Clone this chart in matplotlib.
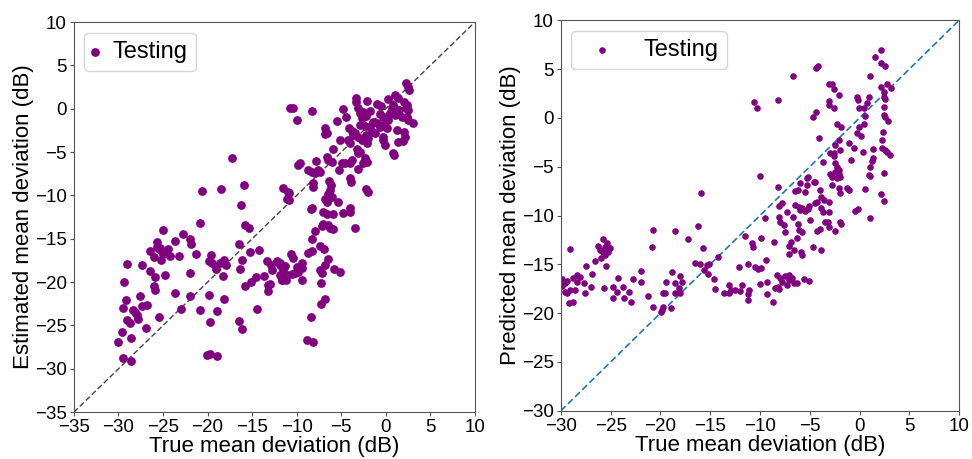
import numpy as np
import matplotlib
matplotlib.use('Agg')
from matplotlib import pyplot as plt

plt.rcParams['font.family'] = ['Liberation Sans', 'DejaVu Sans']

# left panel: (true MD, estimated MD)
left_pts = [
    (2.26, 3.0), (2.5, 2.5), (2.6, 2.2), (1.03, 1.57), (1.4, 1.27), (0.28, 1.1), (-3.35, 1.27), (-3.3, 0.8),
    (-2.08, 0.92), (-1.03, 0.5), (2.04, 0.8), (2.34, 0.42), (2.26, 0.04), (2.5, -0.15), (0.84, 0.42), (0.65, 0.04),
    (-10.76, 0.04), (-10.4, 0.12), (-8.33, -0.27), (-4.77, -0.04), (-3.09, 0.04), (-2.9, -0.54), (-2.53, -0.35),
    (-2.23, -0.85), (-2.7, -1.1), (-0.66, -0.65), (-0.28, -0.92), (0.09, -0.92), (0.47, -0.54), (0.28, -1.3),
    (0.84, -0.15), (1.03, -0.73), (2.34, -0.92), (2.5, -1.3), (3.0, -1.7), (-10.0, -1.3), (-4.47, -0.92),
    (-5.52, -1.4), (-6.83, -2.2), (-6.64, -2.85), (-6.83, -2.96), (-4.1, -2.27), (-3.83, -2.58), (-3.46, -2.85),
    (-3.65, -3.04), (-3.09, -3.23), (-2.9, -1.9), (-2.34, -1.96), (-1.78, -2.08), (-1.4, -1.5), (-1.03, -1.7),
    (-0.66, -2.08), (-0.28, -1.9), (0.09, -2.27), (-1.6, -2.65), (-1.22, -2.85), (-2.7, -3.6), (-2.15, -4.0),
    (-2.23, -3.04), (-0.36, -3.23), (-0.28, -3.6), (-0.1, -4.2), (1.21, -2.46), (1.4, -3.8), (2.04, -2.65),
    (2.15, -3.23), (1.96, -3.73), (0.84, -5.15), (0.92, -5.35), (-5.15, -3.6), (-4.2, -3.6), (-4.02, -4.0),
    (-5.9, -4.6), (-3.28, -4.6), (-3.09, -5.15), (-2.9, -4.96), (-2.34, -5.73), (-2.15, -6.12), (-2.53, -6.3),
    (-3.09, -6.9), (-3.83, -5.9), (-4.02, -6.3), (-4.96, -6.3), (-4.58, -6.3), (-5.22, -7.08), (-6.64, -5.54),
    (-6.08, -6.12), (-6.46, -5.9), (-7.84, -6.04), (-9.82, -6.5), (-9.63, -6.3), (-8.7, -7.08), (-8.33, -7.27),
    (-7.95, -7.46), (-7.58, -7.08), (-7.39, -7.35), (-8.14, -8.6), (-8.14, -9.0), (-6.34, -8.35), (-6.19, -8.8),
    (-6.27, -9.4), (-6.46, -9.8), (-6.08, -10.2), (-6.83, -10.4), (-6.64, -10.7), (-5.33, -10.7), (-4.02, -8.0),
    (-3.95, -8.5), (-2.23, -9.27), (-1.97, -9.65), (-11.58, -9.1), (-10.94, -9.6), (-11.06, -10.4), (-8.33, -11.5),
    (-7.02, -11.9), (-5.9, -12.1), (-4.85, -12.0), (-4.02, -11.4), (-4.02, -11.9), (1.5, -0.2), (1.8, -1.0),
    (-1.8, -0.3), (-0.5, 0.3), (1.2, 0.0), (-2.0, -3.4),
    (-7.95, -14.1), (-7.2, -13.5), (-7.02, -13.3), (-6.46, -13.4), (-6.27, -13.7), (-5.97, -13.9), (-3.46, -13.8),
    (-8.25, -15.0), (-8.7, -16.6), (-8.25, -16.4), (-7.39, -15.8), (-6.94, -16.2), (-6.46, -17.3), (-6.83, -18.0),
    (-7.39, -18.6), (-7.2, -19.0), (-5.78, -18.5), (-5.15, -18.8), (-7.28, -20.1), (-6.83, -21.95), (-7.32, -22.5),
    (-8.4, -24.0), (-8.89, -26.7), (-8.14, -26.9), (-6.6, -12.1), (-8.4, -11.6),
    (-10.68, -16.76), (-10.46, -17.26), (-9.45, -17.76), (-10.0, -18.2), (-11.32, -18.15), (-11.88, -17.76),
    (-9.82, -18.8), (-9.45, -18.4), (-10.2, -19.0), (-10.57, -19.1), (-11.13, -19.2), (-11.21, -19.8),
    (-11.69, -19.8), (-9.45, -19.7),
    (-20.86, -13.2), (-24.97, -14.0), (-22.8, -14.45), (-21.98, -15.06), (-21.9, -15.6), (-23.66, -15.3),
    (-25.72, -15.4), (-25.65, -15.9), (-25.35, -16.1), (-24.97, -16.7), (-25.42, -16.2), (-26.47, -16.4),
    (-25.98, -17.1), (-25.23, -17.4), (-24.41, -16.2), (-24.22, -17.0), (-23.18, -17.0), (-21.3, -16.7),
    (-29.09, -17.9), (-27.4, -18.0), (-26.47, -18.7), (-25.9, -19.45), (-24.79, -19.2), (-21.98, -19.0),
    (-29.4, -19.95), (-26.02, -20.45), (-25.9, -20.9), (-23.66, -21.2), (-21.98, -21.6), (-27.59, -21.6),
    (-29.2, -22.07), (-26.84, -22.6), (-27.4, -22.8), (-28.41, -23.2), (-28.15, -23.4), (-27.97, -23.8),
    (-29.46, -23.0), (-27.78, -24.2), (-29.09, -24.4), (-28.71, -24.76), (-26.92, -25.3), (-25.42, -24.07),
    (-22.99, -23.1), (-29.65, -25.7), (-30.0, -26.95), (-28.64, -26.5), (-29.46, -28.7), (-28.64, -29.1),
    (-19.81, -17.6), (-19.55, -17.8), (-19.66, -16.9), (-19.0, -18.5), (-18.6, -17.8), (-18.2, -17.5),
    (-17.94, -18.0), (-18.24, -19.3), (-16.18, -17.4), (-16.37, -18.5), (-15.24, -16.5), (-14.2, -16.3),
    (-16.44, -15.6), (-15.8, -13.4), (-15.4, -13.8), (-19.81, -21.5), (-18.13, -22.0), (-18.9, -23.3),
    (-20.86, -23.2), (-19.73, -24.6), (-15.8, -20.45), (-15.17, -19.95), (-14.57, -19.4), (-13.67, -19.3),
    (-13.19, -20.3), (-13.0, -20.2), (-13.19, -21.0), (-14.5, -23.1), (-16.44, -24.45), (-16.1, -25.4),
    (-13.37, -17.6), (-12.92, -18.0), (-12.8, -18.6), (-12.25, -17.6), (-11.88, -18.0), (-11.5, -18.6),
    (-11.69, -19.8), (-11.88, -19.2), (-20.03, -28.4), (-19.73, -28.3), (-18.99, -28.5),
    (-17.3, -5.73), (-20.67, -9.5), (-18.5, -9.27), (-15.92, -8.8), (-16.3, -11.1), (-10.9, -9.7), (-10.9, -10.5),
]

# right panel: (true MD, predicted MD)
right_pts = [
    (2.17, 6.93), (1.5, 6.25), (2.17, 5.57), (2.58, 5.3), (-4.19, 5.29), (-4.35, 5.12), (-6.7, 4.3), (1.07, 4.3),
    (-3.05, 3.45), (-2.78, 3.42), (-2.55, 3.0), (-2.11, 2.39), (-3.12, 1.71), (-3.12, 1.3), (-2.58, 0.96),
    (-0.27, 2.15), (-0.17, 1.81), (-0.04, 1.03), (0.9, 2.15), (0.73, 1.54), (2.17, 3.18), (2.41, 2.67),
    (2.74, 3.45), (3.18, 3.01), (2.41, 2.15), (2.58, 1.98), (0.4, 0.96), (0.5, 0.21), (2.41, 1.13), (2.41, 0.28),
    (2.58, 0.04), (2.84, -0.3), (-10.65, 1.64), (-10.31, 1.03), (-8.2, 1.81), (-4.35, 0.62), (-4.69, 0.04),
    (0.4, -0.58), (-0.1, -0.92), (-0.27, -1.6), (0.17, -1.87), (-2.28, -0.58), (-1.84, -0.92), (-4.12, -2.04),
    (2.34, -1.43), (2.24, -2.28), (2.24, -3.07), (2.51, -3.31), (2.74, -3.48), (3.08, -3.82), (1.3, -3.2),
    (1.3, -4.16), (1.24, -4.43), (1.0, -5.0), (-1.11, -2.62), (-0.54, -3.07), (0.3, -3.48), (-2.11, -2.28),
    (-2.45, -2.79), (-1.94, -3.31), (-2.61, -3.58), (-2.95, -3.65), (-2.61, -3.92), (-0.84, -4.33), (-3.72, -4.57),
    (-2.45, -4.67), (-2.28, -5.01), (-2.11, -5.35), (-2.45, -5.52), (-2.11, -5.76), (-2.95, -5.7), (-2.78, -6.04),
    (-5.19, -6.04), (-9.98, -5.97), (0.9, -5.87), (2.41, -5.63),
    (-5.29, -6.2), (-4.62, -6.54), (-4.45, -6.61), (-2.28, -6.13), (-1.94, -6.03), (1.07, -5.96), (-8.2, -7.12),
    (-6.53, -7.5), (-6.2, -7.4), (-5.96, -6.71), (-5.29, -6.88), (-5.46, -7.57), (-3.95, -7.4), (-3.85, -8.08),
    (-3.62, -8.42), (-4.29, -8.59), (-4.45, -8.76), (-3.05, -8.66), (-2.78, -6.88), (-2.11, -7.23), (-2.01, -7.74),
    (-1.27, -7.23), (-1.11, -7.4), (0.5, -7.29), (2.17, -7.84), (2.41, -8.52), (-0.44, -9.55), (-0.17, -9.34),
    (1.07, -10.23), (-7.8, -8.76), (-8.07, -9.0), (-7.3, -9.61), (-6.73, -10.13), (-6.46, -8.93), (-6.13, -9.1),
    (-5.96, -9.44), (-5.8, -9.2), (-5.46, -9.55), (-5.19, -9.34), (-5.06, -9.0), (-8.14, -10.13), (-7.97, -10.64),
    (-7.64, -10.98), (-7.53, -11.66), (-9.54, -10.3), (-6.2, -10.91), (-6.13, -11.49), (-5.8, -11.66),
    (-4.96, -10.47), (-4.29, -11.59), (-3.95, -11.42), (-3.45, -10.64), (-3.18, -10.64), (-3.12, -11.15),
    (-2.45, -11.59), (-1.94, -10.64), (-1.84, -10.91), (-3.85, -9.27), (-3.72, -9.68), (-3.12, -9.68),
    (-11.49, -12.07), (-9.88, -12.28), (-10.82, -12.86), (-10.75, -13.2), (-8.64, -12.69), (-6.3, -12.35),
    (-6.87, -12.69), (-7.13, -13.1), (-6.63, -13.54), (-7.13, -13.95), (-5.86, -13.78), (-5.8, -14.05),
    (-4.69, -13.27), (-3.85, -13.54), (-9.41, -14.56), (-12.09, -15.25), (-11.22, -15.0), (-10.55, -15.25),
    (-10.21, -15.48), (-9.88, -15.42), (-8.31, -16.1), (-7.97, -16.37), (-7.47, -16.17), (-7.13, -16.1),
    (-6.97, -16.27), (-6.8, -16.44), (-7.13, -16.61), (-7.8, -16.78), (-8.2, -17.29), (-8.54, -17.4),
    (-7.3, -17.12), (-6.63, -16.95), (-6.3, -16.95), (-5.63, -16.5), (-5.12, -16.71), (-9.31, -16.85),
    (-9.98, -17.0), (-11.82, -17.12), (-11.99, -17.74), (-11.15, -17.63), (-11.22, -18.08), (-11.22, -18.66),
    (-12.49, -17.63), (-9.31, -18.08), (-8.74, -18.9), (-8.14, -17.53),
    (-15.91, -7.74), (-20.7, -11.49), (-20.86, -13.27), (-18.52, -11.59), (-16.24, -11.05), (-17.25, -12.41),
    (-15.74, -13.3), (-14.17, -14.29), (-16.51, -14.9), (-16.0, -15.0), (-15.67, -15.59), (-15.24, -16.03),
    (-15.34, -15.08), (-15.1, -15.0), (-14.57, -16.51), (-14.5, -17.53), (-13.66, -17.98), (-13.09, -17.12),
    (-12.9, -17.63), (-13.16, -17.98), (-18.85, -15.76), (-18.02, -16.17), (-17.85, -16.78), (-18.52, -16.95),
    (-18.18, -17.46), (-18.02, -17.98), (-18.52, -17.98), (-19.46, -16.78), (-19.79, -17.98), (-19.59, -17.98),
    (-18.92, -19.51), (-19.79, -19.34), (-19.86, -19.68), (-19.92, -19.92), (-20.79, -19.34), (-21.26, -18.22),
    (-21.93, -15.66), (-21.93, -16.85), (-22.8, -16.5), (-24.28, -16.44), (-24.38, -17.87), (-24.81, -17.29),
    (-23.71, -17.29), (-23.14, -17.87), (-23.61, -18.49), (-22.94, -18.83), (-24.81, -18.42), (-25.65, -17.46),
    (-26.95, -17.29), (-27.56, -17.98), (-28.56, -17.63), (-29.06, -17.63), (-29.57, -17.8), (-29.4, -17.98),
    (-29.23, -19.0), (-28.73, -18.83), (-29.9, -16.5), (-29.57, -16.95), (-29.4, -16.71), (-28.73, -16.37),
    (-28.39, -16.1), (-28.06, -16.27), (-28.39, -16.85), (-27.72, -16.95), (-27.49, -15.14), (-26.89, -16.03),
    (-29.13, -13.44), (-26.55, -14.67), (-25.95, -14.39), (-25.72, -13.71), (-25.55, -13.2), (-25.72, -12.41),
    (-26.22, -13.1), (-25.38, -12.86), (-25.21, -13.37), (-25.05, -13.3), (-25.55, -14.05), (-25.28, -13.78),
    (-26.05, -13.54), (-25.45, -15.14), (-29.9, -17.2),
]

left_true, left_est = np.array(left_pts).T
right_true, right_pred = np.array(right_pts).T

left_ticks = np.arange(-35, 11, 5)
right_ticks = np.arange(-30, 11, 5)

purple = '#800080'
spine_col = '#555555'

fig = plt.figure(figsize=(9.72, 4.59), dpi=100)
ax1 = fig.add_axes([0.076, 0.102, 0.4126, 0.850])
ax2 = fig.add_axes([0.577, 0.105, 0.4098, 0.851])

# left: estimated vs true
ax1.plot([-35, 10], [-35, 10], '--', color='#444444', lw=1.0, dashes=(4, 2), zorder=1)
ax1.scatter(left_true, left_est, s=28, color=purple, label='Testing', zorder=2)
ax1.set_xlim(-35, 10)
ax1.set_ylim(-35, 10)
ax1.set_xticks(left_ticks)
ax1.set_yticks(left_ticks)
ax1.set_xlabel('True mean deviation (dB)', fontsize=16, labelpad=0)
ax1.set_ylabel('Estimated mean deviation (dB)', fontsize=16, labelpad=1)
ax1.legend(loc='upper left', fontsize=17, handlelength=0.2, handletextpad=0.65,
           borderpad=0.35, borderaxespad=0.45, scatterpoints=1)

# right: predicted vs true
ax2.plot([-30, 10], [-30, 10], '--', color='#1f77b4', lw=1.2, dashes=(4, 2), zorder=1)
ax2.scatter(right_true, right_pred, s=14, color=purple, label='Testing', zorder=2)
ax2.set_xlim(-30, 10)
ax2.set_ylim(-30, 10)
ax2.set_xticks(right_ticks)
ax2.set_yticks(right_ticks)
ax2.set_xlabel('True mean deviation (dB)', fontsize=16, labelpad=0)
ax2.set_ylabel('Predicted mean deviation (dB)', fontsize=16, labelpad=1)
ax2.legend(loc='upper left', fontsize=17, handlelength=1.85, handletextpad=0.85,
           borderpad=0.35, borderaxespad=0.45, scatterpoints=1)

for ax in (ax1, ax2):
    ax.tick_params(labelsize=13.5, length=3, pad=2, color=spine_col)
    for sp in ax.spines.values():
        sp.set_color(spine_col)

fig.savefig('out.png', dpi=100)
